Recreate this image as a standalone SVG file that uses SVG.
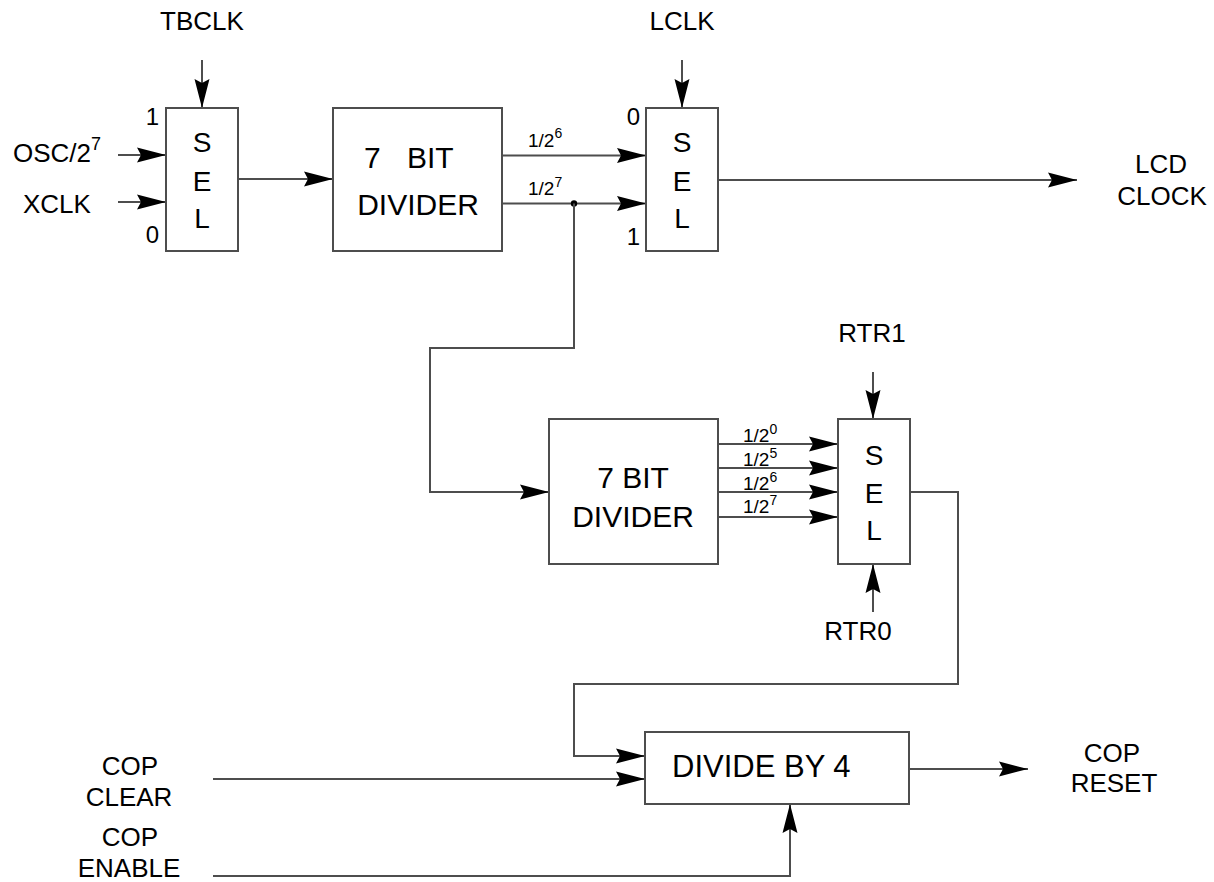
<svg xmlns="http://www.w3.org/2000/svg" width="1214" height="882" viewBox="0 0 1214 882">
<style>
.box{fill:#fff;stroke:#4d4d4d;stroke-width:2}
.w{fill:none;stroke:#4d4d4d;stroke-width:2}
text{font-family:"Liberation Sans",Arial,sans-serif;fill:#000}
.lbl{font-size:26px;text-anchor:middle}
.big{font-size:30px;text-anchor:middle}
.sel{font-size:28px;text-anchor:middle}
.pin{font-size:24px;text-anchor:end}
.f2{font-size:19px}
.f2s{font-size:14px}
</style>
<defs>
<marker id="ah" markerUnits="userSpaceOnUse" markerWidth="30" markerHeight="16" viewBox="0 0 30 16" refX="29" refY="8" orient="auto">
<path d="M0,0.5 L29,8 L0,15.5 L4,8 Z" fill="#000"/>
</marker>
</defs>
<rect width="1214" height="882" fill="#fff"/>

<g id="connectors">
<path class="w" d="M202,60 V108" marker-end="url(#ah)"/>
<path class="w" d="M118,155 H166" marker-end="url(#ah)"/>
<path class="w" d="M118,202 H166" marker-end="url(#ah)"/>
<path class="w" d="M238,179 H333" marker-end="url(#ah)"/>
<path class="w" d="M502,155.5 H646" marker-end="url(#ah)"/>
<path class="w" d="M502,203.5 H646" marker-end="url(#ah)"/>
<circle cx="574" cy="203.5" r="3.2" fill="#000"/>
<path class="w" d="M574,203.5 V348 H430 V492 H549" marker-end="url(#ah)"/>
<path class="w" d="M682,60 V108" marker-end="url(#ah)"/>
<path class="w" d="M718,180 H1077" marker-end="url(#ah)"/>
<path class="w" d="M718,444 H838" marker-end="url(#ah)"/>
<path class="w" d="M718,468 H838" marker-end="url(#ah)"/>
<path class="w" d="M718,492 H838" marker-end="url(#ah)"/>
<path class="w" d="M718,517 H838" marker-end="url(#ah)"/>
<path class="w" d="M873,372 V419" marker-end="url(#ah)"/>
<path class="w" d="M873,612 V564" marker-end="url(#ah)"/>
<path class="w" d="M910,492 H958 V684 H574 V756 H645" marker-end="url(#ah)"/>
<path class="w" d="M213,779 H645" marker-end="url(#ah)"/>
<path class="w" d="M213,876 H790 V804" marker-end="url(#ah)"/>
<path class="w" d="M909,769 H1028" marker-end="url(#ah)"/>
</g>

<g id="labels">
<text class="lbl" x="202" y="30">TBCLK</text>
<text class="lbl" x="682" y="30">LCLK</text>
<text style="font-size:26px" x="13" y="162">OSC/2<tspan style="font-size:18px" dy="-12">7</tspan></text>
<text style="font-size:26px" x="23" y="213">XCLK</text>
<text class="lbl" x="1161" y="173">LCD</text>
<text class="lbl" x="1162" y="205">CLOCK</text>
<text class="lbl" x="872" y="342">RTR1</text>
<text class="lbl" x="858" y="640">RTR0</text>
<text class="lbl" x="130" y="775">COP</text>
<text class="lbl" x="129" y="806">CLEAR</text>
<text class="lbl" x="130" y="846">COP</text>
<text class="lbl" x="129" y="877">ENABLE</text>
<text class="lbl" x="1112" y="762">COP</text>
<text class="lbl" x="1114" y="792">RESET</text>
<text class="f2" x="528" y="147">1/2<tspan class="f2s" dy="-9">6</tspan></text>
<text class="f2" x="528" y="195">1/2<tspan class="f2s" dy="-8">7</tspan></text>
<text class="f2" x="743" y="442">1/2<tspan class="f2s" dy="-8">0</tspan></text>
<text class="f2" x="743" y="466">1/2<tspan class="f2s" dy="-8">5</tspan></text>
<text class="f2" x="743" y="490">1/2<tspan class="f2s" dy="-8">6</tspan></text>
<text class="f2" x="743" y="513">1/2<tspan class="f2s" dy="-8">7</tspan></text>
</g>

<g id="sel1">
<rect class="box" x="166" y="108" width="72" height="143"/>
<text class="sel" x="202" y="152">S</text>
<text class="sel" x="202" y="191">E</text>
<text class="sel" x="202" y="228">L</text>
<text class="pin" x="159" y="125">1</text>
<text class="pin" x="159" y="243">0</text>
</g>

<g id="divider1">
<rect class="box" x="333" y="108" width="169" height="143"/>
<text style="font-size:30px" x="364" y="168">7<tspan x="407">BIT</tspan></text>
<text class="big" x="418" y="215">DIVIDER</text>
</g>

<g id="sel2">
<rect class="box" x="646" y="108" width="72" height="143"/>
<text class="sel" x="682" y="152">S</text>
<text class="sel" x="682" y="191">E</text>
<text class="sel" x="682" y="228">L</text>
<text class="pin" x="640" y="125">0</text>
<text class="pin" x="640" y="245">1</text>
</g>

<g id="divider2">
<rect class="box" x="549" y="419" width="169" height="145"/>
<text class="big" x="633" y="488">7 BIT</text>
<text class="big" x="633" y="527">DIVIDER</text>
</g>

<g id="sel3">
<rect class="box" x="838" y="419" width="72" height="145"/>
<text class="sel" x="874" y="465">S</text>
<text class="sel" x="874" y="503">E</text>
<text class="sel" x="874" y="540">L</text>
</g>

<g id="divide4">
<rect class="box" x="645" y="732" width="264" height="72"/>
<text style="font-size:31px" x="672" y="777">DIVIDE BY 4</text>
</g>
</svg>
